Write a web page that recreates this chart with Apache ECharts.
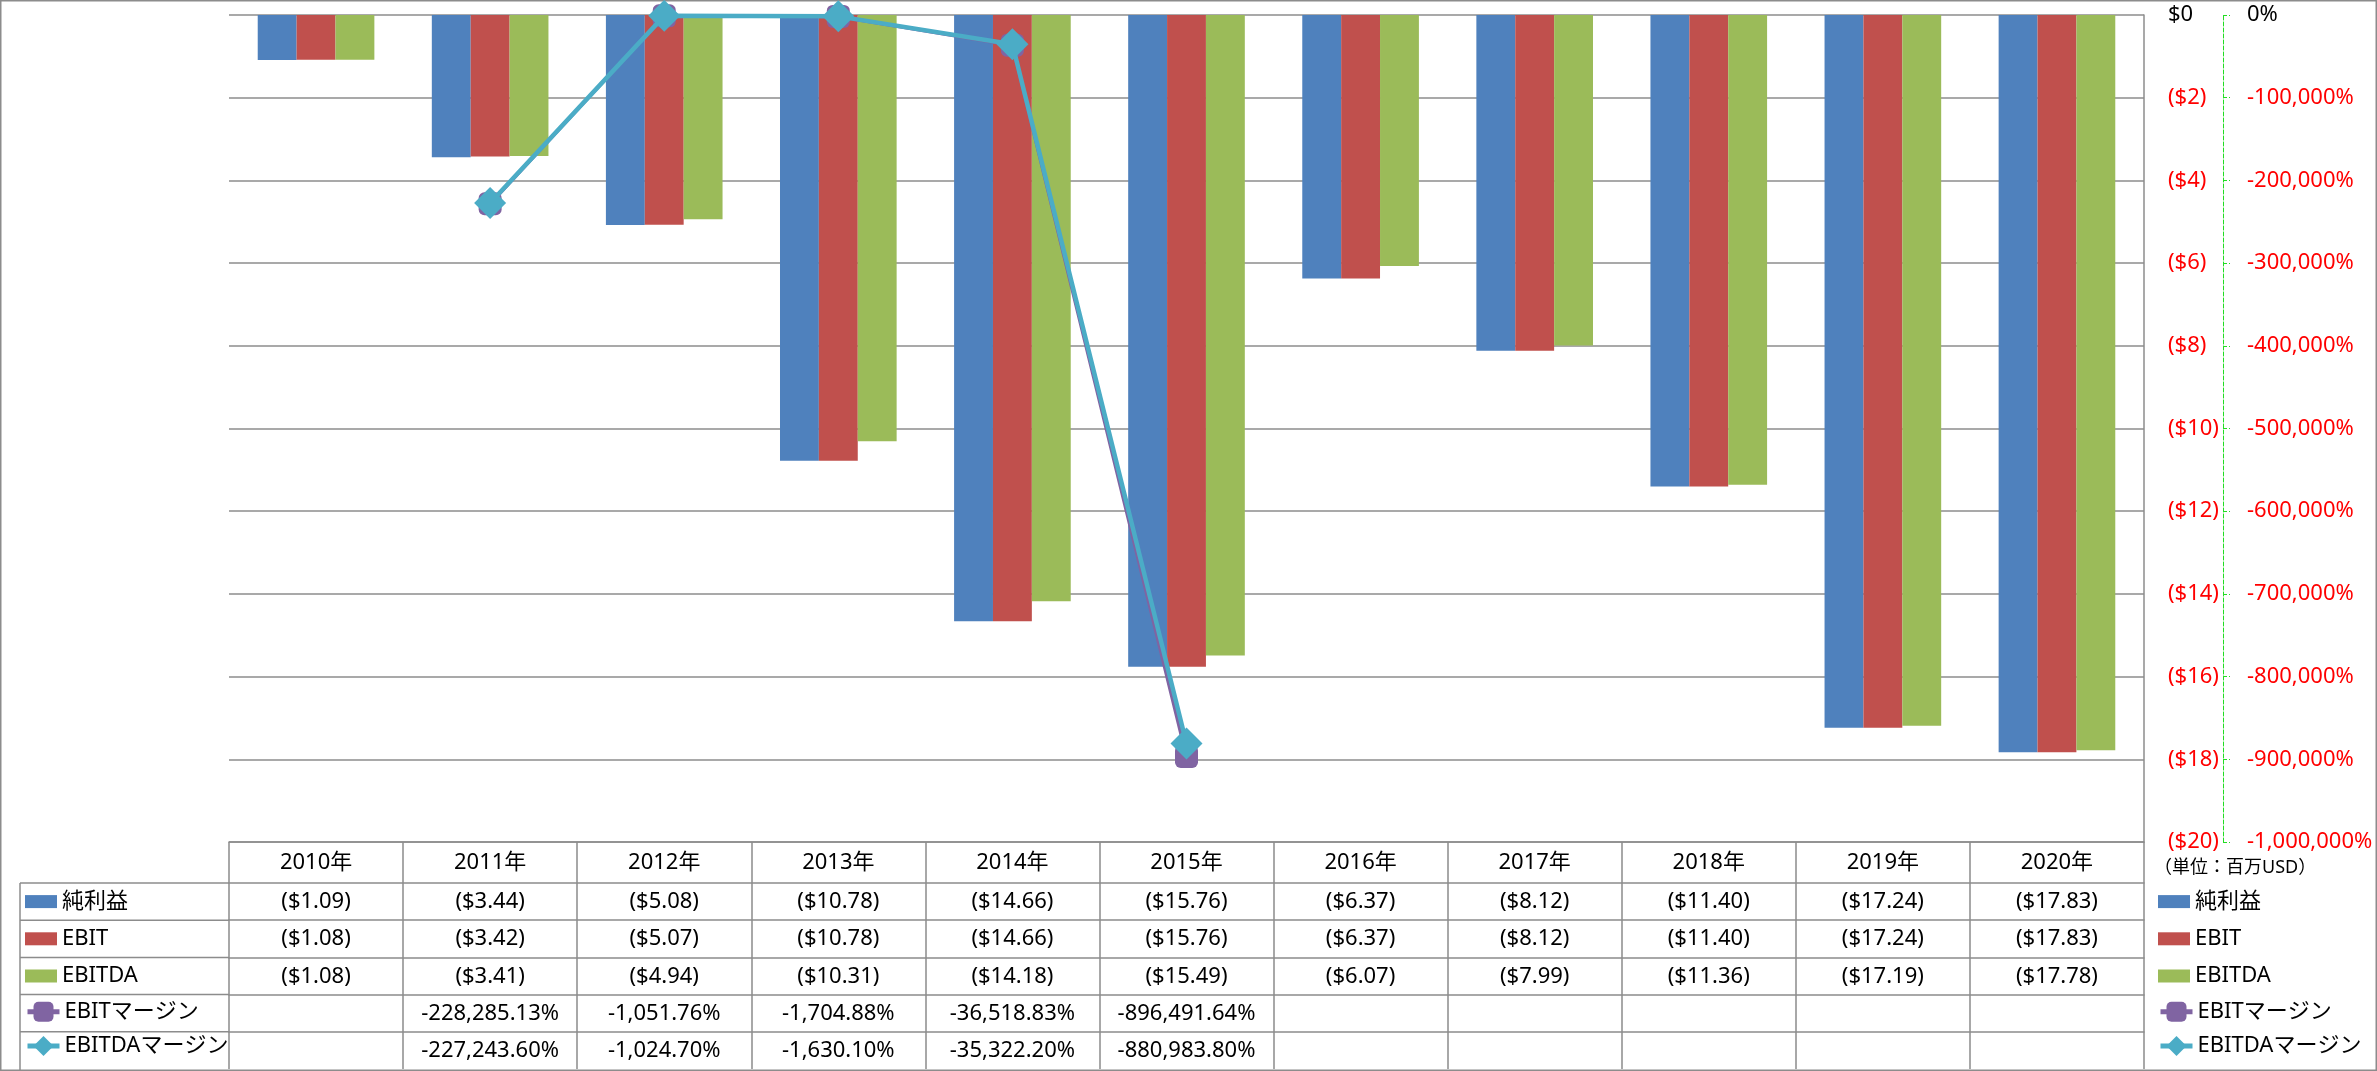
<!DOCTYPE html>
<html>
<head>
<meta charset="utf-8">
<script src="https://cdn.jsdelivr.net/npm/echarts@6/dist/echarts.min.js"></script>
<style>
html,body{margin:0;padding:0;background:#fff;}
#chart{width:2377px;height:1071px;}
</style>
</head>
<body>
<div id="chart"></div>
<script>
// ---- data ----
const categories = ['2010年','2011年','2012年','2013年','2014年','2015年','2016年','2017年','2018年','2019年','2020年'];
const netIncome = [-1.09,-3.44,-5.08,-10.78,-14.66,-15.76,-6.37,-8.12,-11.40,-17.24,-17.83];
const ebit      = [-1.08,-3.42,-5.07,-10.78,-14.66,-15.76,-6.37,-8.12,-11.40,-17.24,-17.83];
const ebitda    = [-1.08,-3.41,-4.94,-10.31,-14.18,-15.49,-6.07,-7.99,-11.36,-17.19,-17.78];
const ebitMargin   = [null,-228285.13,-1051.76,-1704.88,-36518.83,-896491.64,null,null,null,null,null];
const ebitdaMargin = [null,-227243.60,-1024.70,-1630.10,-35322.20,-880983.80,null,null,null,null,null];
const seriesNames = ['純利益','EBIT','EBITDA','EBITマージン','EBITDAマージン'];
const unitLabel = '（単位：百万USD）';

// ---- layout/style ----
const W = 2377, H = 1071;
const GRID_L = 229, GRID_R = 2144, GRID_T = 15, GRID_B = 842;
const HEAD_H = 41, ROW_H = 37.2;
const LEG_X = 20;
const FONT = "'Noto Sans','Noto Sans CJK JP',sans-serif";
const GRAY = '#8c8c8c';
const colors = ['#4F81BD','#C0504D','#9BBB59','#8064A2','#4BACC6'];

const fmtMoney = v => (v == null ? '' : (v < 0 ? '($' + Math.abs(v).toFixed(2) + ')' : '$' + v.toFixed(2)));
const fmtPct = v => (v == null ? '' : v.toLocaleString('en-US',{minimumFractionDigits:2,maximumFractionDigits:2}) + '%');
const rowData = [netIncome, ebit, ebitda, ebitMargin, ebitdaMargin];
const rowFmt = [fmtMoney, fmtMoney, fmtMoney, fmtPct, fmtPct];

const xAxes = [{
  type:'category', data:categories, gridIndex:0, position:'bottom',
  axisLine:{show:true, onZero:false, lineStyle:{color:GRAY, width:1.5}},
  axisTick:{show:true, interval:0, length:HEAD_H, lineStyle:{color:GRAY, width:1.5}},
  axisLabel:{interval:0, margin:9, fontSize:22, lineHeight:24, color:'#000', fontFamily:FONT},
  splitLine:{show:false}
}];
for (let k = 0; k < 5; k++) {
  xAxes.push({
    type:'category', data:categories, gridIndex:0, position:'bottom',
    offset: HEAD_H + ROW_H * k,
    axisLine:{show:true, onZero:false, lineStyle:{color:GRAY, width:1.5}},
    axisTick:{show:true, interval:0, length:ROW_H, lineStyle:{color:GRAY, width:1.5}},
    axisLabel:{interval:0, margin:7, fontSize:22, lineHeight:24, color:'#000', fontFamily:FONT,
      formatter:(v, i) => rowFmt[k](rowData[k][i])},
    splitLine:{show:false}
  });
}

const tableGraphics = [];
const rowTop0 = GRID_B + HEAD_H;
for (let k = 0; k < 5; k++) {
  const y = rowTop0 + ROW_H * k;
  tableGraphics.push({type:'line', shape:{x1:LEG_X, y1:y, x2:GRID_L, y2:y}, style:{stroke:GRAY, lineWidth:1.5}, silent:true});
}
tableGraphics.push({type:'line', shape:{x1:LEG_X, y1:rowTop0, x2:LEG_X, y2:H-1}, style:{stroke:GRAY, lineWidth:1.5}, silent:true});
tableGraphics.push({type:'rect', shape:{x:0.75, y:0.75, width:W-1.5, height:H-1.5}, style:{fill:'none', stroke:GRAY, lineWidth:1.5}, silent:true});

const legendBase = {orient:'vertical', itemGap:0, textStyle:{fontSize:22, lineHeight:22, color:'#000', fontFamily:FONT}, selectedMode:false, padding:0};
const barLegTop = rowTop0 + ROW_H/2 - 11;
const lineLegTop = rowTop0 + ROW_H*3 + ROW_H/2 - 12.5;

const option = {
  animation:false,
  backgroundColor:'#fff',
  color:colors,
  title:{text:unitLabel, left:2154, top:859, padding:0, textStyle:{fontSize:18, fontWeight:'normal', color:'#000', fontFamily:FONT}},
  grid:{left:GRID_L, right:W-GRID_R, top:GRID_T, bottom:H-GRID_B, containLabel:false},
  legend:[
    Object.assign({}, legendBase, {left:25, top:barLegTop, icon:'rect', itemWidth:32, itemHeight:13, itemGap:ROW_H-22, data:seriesNames.slice(0,3)}),
    Object.assign({}, legendBase, {left:25, top:lineLegTop, itemWidth:32, itemHeight:25, itemGap:ROW_H-25, lineStyle:{width:5}, data:seriesNames.slice(3)}),
    Object.assign({}, legendBase, {left:2158, top:barLegTop, icon:'rect', itemWidth:32, itemHeight:13, itemGap:ROW_H-22, data:seriesNames.slice(0,3)}),
    Object.assign({}, legendBase, {left:2158, top:lineLegTop, itemWidth:32, itemHeight:25, itemGap:ROW_H-25, lineStyle:{width:5}, data:seriesNames.slice(3)})
  ],
  xAxis:xAxes,
  yAxis:[
    {type:'value', position:'right', min:-20, max:0, interval:2,
     axisLine:{show:true, lineStyle:{color:GRAY, width:1.5}},
     axisTick:{show:false},
     splitLine:{show:true, lineStyle:{color:GRAY, width:1.5}},
     axisLabel:{margin:24, fontSize:22, fontFamily:FONT,
       color:v => (Number(v) < 0 ? '#FF0000' : '#000000'),
       formatter:v => (v === 0 ? '$0' : '($' + Math.abs(v) + ')')}},
    {type:'value', position:'right', offset:79, min:-1000000, max:0, interval:100000,
     axisLine:{show:true, lineStyle:{color:'#22dd22', width:1, type:'dashed'}},
     axisTick:{show:true, length:7, lineStyle:{color:'#22dd22', width:1, type:'dashed'}},
     splitLine:{show:false},
     axisLabel:{margin:24, fontSize:22, fontFamily:FONT,
       color:v => (Number(v) < 0 ? '#FF0000' : '#000000'),
       formatter:v => (v === 0 ? '0%' : v.toLocaleString('en-US') + '%')}}
  ],
  graphic:tableGraphics,
  series:[
    {name:seriesNames[0], type:'bar', data:netIncome, xAxisIndex:0, yAxisIndex:0, barGap:'0%', barCategoryGap:'33%', itemStyle:{color:colors[0]}},
    {name:seriesNames[1], type:'bar', data:ebit, xAxisIndex:0, yAxisIndex:0, barGap:'0%', barCategoryGap:'33%', itemStyle:{color:colors[1]}},
    {name:seriesNames[2], type:'bar', data:ebitda, xAxisIndex:0, yAxisIndex:0, barGap:'0%', barCategoryGap:'33%', itemStyle:{color:colors[2]}},
    {name:seriesNames[3], type:'line', data:ebitMargin, xAxisIndex:0, yAxisIndex:1, symbol:'roundRect', symbolSize:23,
     lineStyle:{color:colors[3], width:3.5}, itemStyle:{color:colors[3]}, z:3},
    {name:seriesNames[4], type:'line', data:ebitdaMargin, xAxisIndex:0, yAxisIndex:1, symbol:'diamond', symbolSize:32,
     lineStyle:{color:colors[4], width:4.5}, itemStyle:{color:colors[4]}, z:4}
  ]
};
const chart = echarts.init(document.getElementById('chart'));
chart.setOption(option);
</script>
</body>
</html>
